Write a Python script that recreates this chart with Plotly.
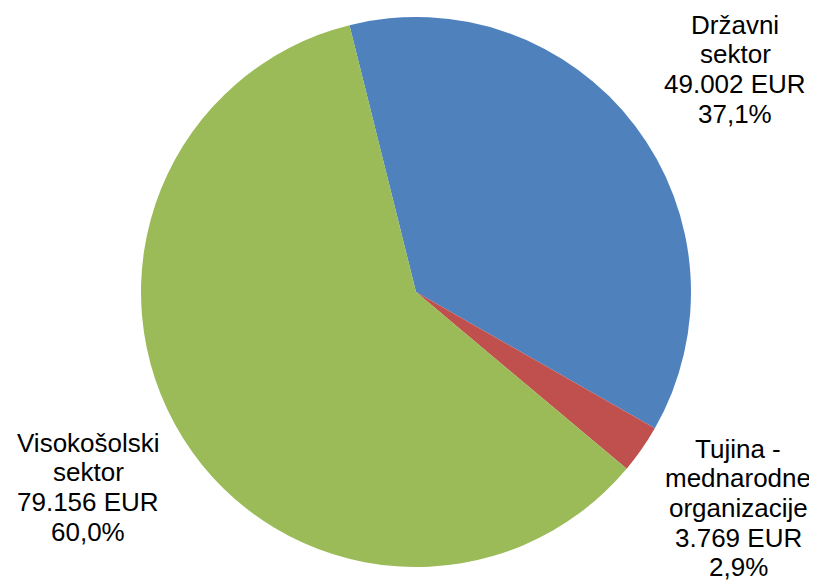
import plotly.graph_objects as go

categories = ["Državni sektor", "Tujina - mednarodne organizacije", "Visokošolski sektor"]
values = [49002, 3769, 79156]
value_labels = ["49.002 EUR", "3.769 EUR", "79.156 EUR"]
pct_labels = ["37,1%", "2,9%", "60,0%"]
label_lines = [["Državni", "sektor"], ["Tujina -", "mednarodne", "organizacije"], ["Visokošolski", "sektor"]]
colors = ["#4F81BD", "#C0504D", "#9BBB59"]

OFF = 8  # page body margin in the browser
W, H = 817 - OFF, 588 - OFF

fig = go.Figure(go.Pie(
    labels=categories,
    values=values,
    sort=False,
    direction="clockwise",
    rotation=-14,
    marker=dict(colors=colors, line=dict(width=0)),
    textinfo="none",
    hoverinfo="label+value+percent",
    domain=dict(x=[(416 - OFF - 275) / W, (416 - OFF + 275) / W],
                y=[(H - (292 - OFF) - 275) / H, (H - (292 - OFF) + 275) / H]),
    showlegend=False,
))

# label block: centre x and first baseline (in screenshot pixels)
label_pos = [(735, 34), (738, 458), (88, 452)]
line_step = 29.7
font_size = 26
for lines, v, p, (cx, b0) in zip(label_lines, value_labels, pct_labels, label_pos):
    for i, txt in enumerate(lines + [v, p]):
        base = b0 + i * line_step
        fig.add_annotation(
            text=txt,
            x=(cx - OFF) / W, y=1 - (base - OFF - 0.36 * font_size) / H,
            xref="paper", yref="paper",
            xanchor="center", yanchor="middle", showarrow=False, align="center",
            font=dict(family="Liberation Sans, Arial", size=font_size, color="#000000"),
        )

fig.update_layout(
    width=W, height=H,
    margin=dict(l=0, r=0, t=0, b=0),
    paper_bgcolor="white", plot_bgcolor="white",
)

fig.write_html("out.html")
